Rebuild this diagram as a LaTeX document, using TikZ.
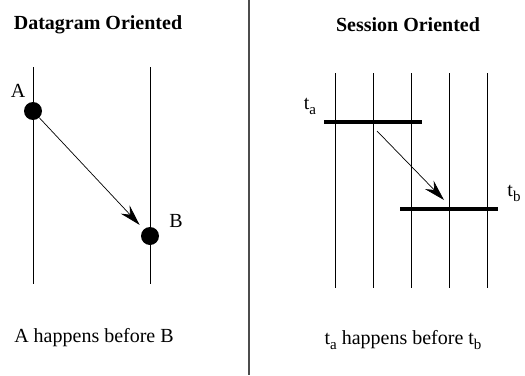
\documentclass[tikz,border=0pt]{standalone}
\usepackage{fontspec}
\setmainfont{Liberation Serif}
\usepackage{tikz}
\usetikzlibrary{arrows.meta, positioning, calc}
\newcommand{\lowsub}[1]{\raisebox{-5pt}{\fontsize{15}{16}\selectfont #1}}

\begin{document}
\begin{tikzpicture}[x=1pt, y=-1pt,
            txt/.style={inner sep=0pt, font=\rmfamily\fontsize{20}{23}\selectfont},
            ttl/.style={txt, font=\rmfamily\fontsize{20}{23}\selectfont\bfseries},
            life/.style={line width=0.8pt},
            event/.style={circle, fill=black, inner sep=0pt, minimum size=18pt},
            bar/.style={rectangle, fill=black, inner sep=0pt,
                        minimum width=98pt, minimum height=3.6pt},
            arr/.style={-{Stealth[length=21pt, width=12pt, inset=7pt]},
                        line width=0.7pt}
          ]
          \useasboundingbox (0,0) rectangle (525,375);

          % divider
          \draw[line width=1.3pt, black!70] (249,0) -- (249,375);

          % Datagram oriented
          \node[ttl] (dtitle) at (98,25) {Datagram Oriented};
          \draw[life] (33,67) -- (33,284);
          \draw[life] (150,67) -- (150,284);
          \node[event] (A) at (33,111) {};
          \node[event] (B) at (150,236) {};
          \node[txt] (Alabel) at (18,91) {A};
          \node[txt] (Blabel) at (176,221) {B};
          \draw[arr, shorten >=6pt] (A) -- (B);
          \node[txt] (dnote) at (94,338) {A happens before B};

          % Session oriented
          \node[ttl] (stitle) at (408,25) {Session Oriented};
          \foreach \i in {0,...,4}
            \draw[life] (335.7+37.8*\i,73) -- ++(0,215);
          \node[bar] (tabar) at (373,122) {};
          \node[bar] (tbbar) at (449,209) {};
          \node[txt] (talabel) at (310,106) {t\lowsub{a}};
          \node[txt] (tblabel) at (514,193) {t\lowsub{b}};
          \coordinate (sstart) at ($(tabar.south)+(4,7)$);
          \coordinate (send) at ($(tbbar.north)+(-5,-7)$);
          \draw[arr] (sstart) -- (send);
          \node[txt] (snote) at (403,340) {t\lowsub{a} happens before t\lowsub{b}};
        \end{tikzpicture}
\end{document}
